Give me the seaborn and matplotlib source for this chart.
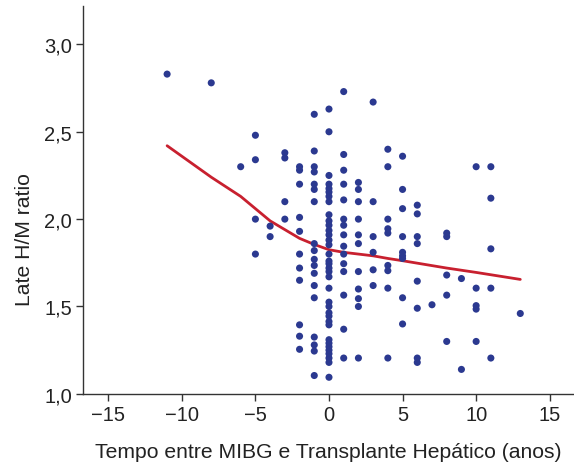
import matplotlib
matplotlib.use("Agg")
import matplotlib.pyplot as plt
import seaborn as sns
import pandas as pd

# ---- data ----
time_years = (
    [-11] * 1 + [-8] * 1 + [-6] * 1 + [-5] * 4 + [-4] * 2 + [-3] * 4 +
    [-2] * 11 + [-1] * 18 + [0] * 36 + [1] * 15 + [2] * 11 + [3] * 6 +
    [4] * 9 + [5] * 9 + [6] * 8 + [7] * 1 + [8] * 5 + [9] * 2 +
    [10] * 5 + [11] * 5 + [13] * 1
)
hm_ratio = [
    2.83,
    2.78,
    2.30,
    2.48, 2.34, 2.00, 1.80,
    1.96, 1.90,
    2.38, 2.35, 2.10, 2.00,
    2.30, 2.28, 2.20, 2.01, 1.93, 1.80, 1.72, 1.65, 1.395, 1.33, 1.255,
    2.60, 2.39, 2.30, 2.27, 2.20, 2.17, 2.10, 1.86, 1.82, 1.77, 1.735, 1.69,
    1.62, 1.55, 1.325, 1.28, 1.245, 1.105,
    2.63, 2.50, 2.25, 2.20, 2.175, 2.155, 2.13, 2.10, 2.025, 1.99, 1.965,
    1.935, 1.91, 1.88, 1.853, 1.80, 1.76, 1.745, 1.72, 1.70, 1.67, 1.605,
    1.525, 1.50, 1.464, 1.445, 1.414, 1.395, 1.31, 1.29, 1.27, 1.25, 1.23,
    1.205, 1.18, 1.095,
    2.73, 2.37, 2.28, 2.20, 2.11, 2.00, 1.965, 1.91, 1.845, 1.80, 1.745,
    1.70, 1.565, 1.37, 1.205,
    2.21, 2.17, 2.10, 2.00, 1.91, 1.86, 1.70, 1.60, 1.545, 1.50, 1.205,
    2.67, 2.10, 1.90, 1.81, 1.71, 1.62,
    2.40, 2.30, 2.00, 1.945, 1.92, 1.735, 1.705, 1.605, 1.205,
    2.36, 2.17, 2.06, 1.90, 1.81, 1.79, 1.775, 1.55, 1.40,
    2.08, 2.03, 1.90, 1.86, 1.645, 1.49, 1.205, 1.18,
    1.51,
    1.92, 1.90, 1.68, 1.565, 1.30,
    1.66, 1.14,
    2.30, 1.605, 1.505, 1.485, 1.30,
    2.30, 2.12, 1.83, 1.605, 1.205,
    1.46,
]

# smoothed (loess-like) fit line
fit_x = [-11, -8, -6, -5, -4, -3, -2, -1, 0, 1, 2, 3, 4, 5, 8, 10, 13]
fit_y = [2.42, 2.24, 2.13, 2.06, 1.99, 1.94, 1.89, 1.855, 1.825, 1.81,
         1.80, 1.79, 1.775, 1.762, 1.72, 1.695, 1.655]

x_ticks = [-15, -10, -5, 0, 5, 10, 15]
y_ticks = [1.0, 1.5, 2.0, 2.5, 3.0]
y_tick_labels = ["1,0", "1,5", "2,0", "2,5", "3,0"]

x_label = "Tempo entre MIBG e Transplante Hepático (anos)"
y_label = "Late H/M ratio"

# ---- plot ----
sns.set_theme(style="ticks")
plt.rcParams["font.family"] = ["Liberation Sans", "DejaVu Sans"]

df_points = pd.DataFrame({"t": time_years, "hm": hm_ratio})
df_fit = pd.DataFrame({"t": fit_x, "hm": fit_y})

fig = plt.figure(figsize=(5.74, 4.64), dpi=100)
ax = fig.add_axes([0.145, 0.149, 0.855, 0.836])

sns.scatterplot(data=df_points, x="t", y="hm", ax=ax, color="#2b3990",
                s=26, edgecolor="none", zorder=3)
sns.lineplot(data=df_fit, x="t", y="hm", ax=ax, color="#c8202f",
             linewidth=2.0, zorder=2)

ax.set_xlim(-16.7, 16.65)
ax.set_ylim(1.0, 3.22)
ax.set_xticks(x_ticks)
ax.set_yticks(y_ticks)
ax.set_yticklabels(y_tick_labels)

for side in ["top", "right"]:
    ax.spines[side].set_visible(False)
for side in ["left", "bottom"]:
    ax.spines[side].set_color("#333333")
    ax.spines[side].set_linewidth(1.0)

ax.tick_params(axis="both", direction="out", length=5, width=1.0,
               color="#333333", labelsize=14.5, labelcolor="#222222", pad=3)

ax.set_xlabel(x_label, fontsize=15.2, color="#222222", labelpad=13)
ax.set_ylabel(y_label, fontsize=15.2, color="#222222")
ax.yaxis.set_label_coords(-0.1, 0.40)

fig.savefig("out.png", dpi=100)
